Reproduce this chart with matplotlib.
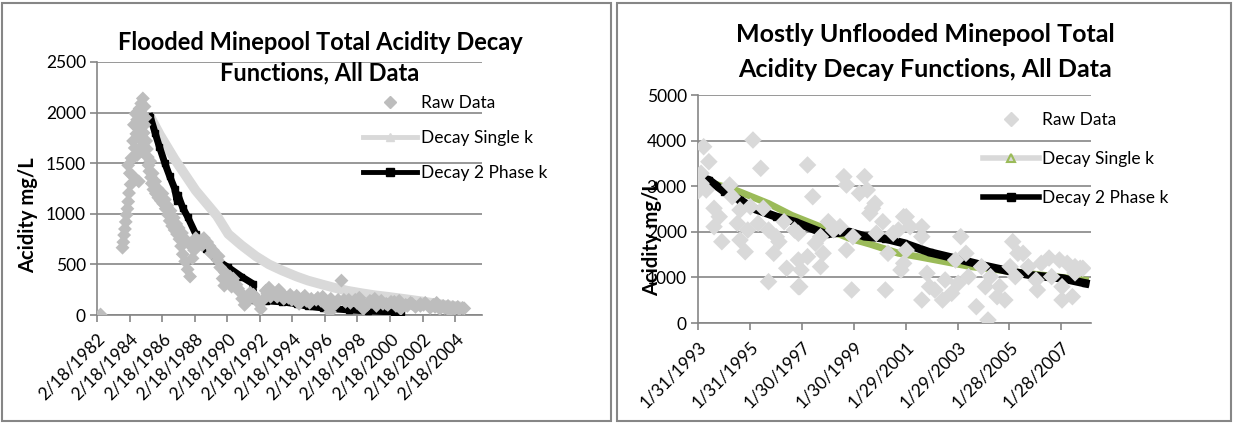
import matplotlib
matplotlib.use("Agg")
import matplotlib.pyplot as plt
from matplotlib.lines import Line2D
from matplotlib.patches import Rectangle
import pandas as pd

plt.rcParams['font.family'] = ['Lato', 'DejaVu Sans']

# ---- flooded minepool (left) ----
flood_t = [1982.35, 1983.70, 1983.75, 1983.80, 1983.85, 1983.90, 1983.95, 1984.00, 1984.05, 1984.10,
           1984.20, 1984.30, 1984.05, 1984.25, 1984.60, 1984.70, 1984.45, 1984.35, 1984.55, 1984.40,
           1984.60, 1984.50, 1984.75, 1984.65, 1984.85, 1984.95, 1985.05, 1984.90, 1985.10, 1984.80,
           1985.00, 1985.15, 1984.95, 1985.20, 1985.25, 1985.30, 1985.35, 1985.45, 1985.50, 1985.60,
           1985.75, 1985.90, 1986.05, 1986.20, 1986.35, 1986.50, 1986.60, 1986.75, 1986.90, 1987.05,
           1987.20, 1987.30, 1987.40, 1987.55, 1987.70, 1987.85, 1988.00, 1988.10, 1988.30, 1988.50,
           1988.70, 1988.90, 1989.05, 1989.25, 1989.40, 1989.55, 1989.70, 1989.85, 1989.95, 1990.10,
           1990.30, 1990.50, 1990.70, 1990.90, 1991.05, 1991.20, 1991.35, 1991.55, 1991.75, 1991.90,
           1992.05, 1992.20, 1992.35, 1992.50, 1992.70, 1992.90, 1993.10, 1993.30, 1993.50, 1993.70,
           1993.90, 1994.10, 1994.30, 1994.55, 1994.80, 1995.00, 1995.30, 1995.60, 1995.90, 1996.20,
           1996.45, 1996.70, 1996.95, 1997.15, 1997.40, 1997.70, 1998.00, 1998.25, 1998.50, 1998.75,
           1999.00, 1999.30, 1999.60, 1999.90, 2000.20, 2000.50, 2000.80, 2001.10, 2001.40, 2001.70,
           2002.00, 2002.30, 2002.60, 2002.90, 2003.20, 2003.50, 2003.80, 2004.10, 2004.40, 2004.70,
           1992.80, 1993.60, 1994.40, 1995.20, 1996.00, 1996.80, 1997.60, 1998.40, 1999.20, 2000.00,
           2000.70, 2001.50, 2002.20, 2003.00, 2003.70, 2004.30,
           1984.15, 1984.40, 1984.70, 1984.85, 1985.05, 1985.40, 1985.55, 1985.70, 1985.85, 1986.00,
           1986.15, 1986.30, 1986.45, 1986.65, 1986.85, 1987.00, 1987.15, 1987.35, 1987.60, 1987.80,
           1988.20, 1988.60, 1989.15, 1989.60, 1990.00, 1990.40, 1990.80, 1991.45, 1992.60, 1993.20,
           1994.00, 1994.90, 1995.70, 1996.50, 1997.30, 1998.10, 1998.90, 1999.70, 2000.40, 2001.20,
           2002.00, 2002.80, 2003.40, 2004.00, 2004.60]
flood_acid = [5, 665, 720, 790, 850, 920, 990, 1050, 1120, 1205,
              1290, 1380, 1480, 1550, 1580, 1320, 1650, 1720, 1790, 1880,
              1930, 1990, 2040, 1850, 2090, 2140, 2060, 1990, 1950, 1900,
              1800, 1720, 1680, 1640, 1560, 1480, 1420, 1360, 1300, 1240,
              1200, 1160, 1130, 1100, 1050, 990, 930, 880, 840, 800,
              750, 680, 600, 530, 450, 380, 560, 640, 700, 740,
              760, 720, 680, 640, 600, 540, 470, 360, 290, 330,
              380, 360, 300, 230, 160, 100, 180, 220, 200, 170,
              120, 60, 150, 240, 270, 230, 200, 250, 210, 180,
              170, 150, 160, 110, 170, 140, 160, 150, 140, 100,
              30, 110, 150, 340, 130, 120, 150, 170, 60, 100,
              130, 90, 140, 110, 130, 90, 60, 100, 120, 80,
              90, 120, 70, 80, 60, 70, 40, 60, 55, 65,
              180, 160, 190, 120, 180, 110, 150, 120, 160, 100,
              140, 110, 100, 120, 90, 80,
              1400, 1560, 1760, 1620, 1880, 1520, 1400, 1320, 1250, 1180,
              1200, 1140, 1080, 1030, 960, 900, 860, 810, 740, 700,
              760, 690, 610, 580, 420, 280, 260, 150, 210, 180,
              200, 190, 170, 160, 150, 120, 140, 110, 130, 90,
              110, 100, 90, 80, 70]

flood_single_t = [1985.4, 1986.0, 1986.9, 1988.2, 1989.5, 1990.2, 1991.0, 1991.9, 1992.7, 1993.5,
                  1994.4, 1995.1, 1996.0, 1996.7, 1997.5, 1998.4, 1999.2, 2000.0, 2001.4, 2002.5,
                  2003.5, 2004.7]
flood_single = [1960, 1780, 1540, 1230, 980, 800, 690, 580, 500, 440,
                380, 340, 300, 270, 240, 215, 195, 180, 150, 125,
                100, 80]

flood_2ph_t = [1985.40, 1985.70, 1985.97, 1986.30, 1986.60, 1986.90, 1987.05, 1987.10, 1987.40, 1987.70,
               1988.20, 1988.80, 1989.50, 1990.20, 1991.00, 1991.70, 1991.80, 1992.50, 1993.50, 1994.40,
               1995.10, 1996.00, 1997.60, 1998.80, 2000.40, 2000.80]
flood_2ph = [1960, 1800, 1660, 1500, 1370, 1250, 1130, 1190, 1060, 970,
             800, 650, 540, 470, 380, 310, 150, 140, 130, 110,
             85, 70, 50, 40, 30, 25]

flood_ticks = ['2/18/1982', '2/18/1984', '2/18/1986', '2/18/1988', '2/18/1990', '2/18/1992',
               '2/18/1994', '2/18/1996', '2/18/1998', '2/18/2000', '2/18/2002', '2/18/2004']

# ---- mostly unflooded minepool (right) ----
unfl_t = [1993.3, 1993.5, 1993.2, 1993.2, 1993.4, 1995.2, 1995.5, 1994.3, 1993.7, 1993.9,
          1993.7, 1994.0, 1994.4, 1994.7, 1994.6, 1994.7, 1994.9, 1995.1, 1995.0, 1995.6,
          1995.4, 1995.8, 1996.0, 1996.2, 1996.1, 1996.5, 1995.8, 1996.4, 1996.8, 1996.95,
          1996.95, 1997.3, 1997.5, 1996.95, 1997.3, 1997.05, 1997.0, 1997.6, 1997.8, 1997.9,
          1997.8, 1998.1, 1998.3, 1998.55, 1998.8, 1998.7, 1998.8, 1999.0, 1999.05, 1999.3,
          1999.5, 1999.6, 1999.8, 1999.9, 1999.7, 2000.2, 1999.95, 2000.4, 2000.3, 2000.6,
          2000.8, 2001.0, 2000.9, 2001.1, 2001.1, 2001.25, 2001.7, 2001.7, 2001.0, 2001.9,
          2002.0, 2001.7, 2002.2, 2002.5, 2002.6, 2002.85, 2003.2, 2003.4, 2003.0, 2003.5,
          2003.1, 2003.8, 2004.0, 2004.15, 2004.25, 2004.35, 2004.6, 2004.7, 2004.9, 2005.1,
          2005.2, 2005.4, 2005.3, 2005.6, 2005.8, 2006.1, 2006.3, 2006.15, 2006.6, 2006.7,
          2007.0, 2007.3, 2007.1, 2007.1, 2007.5, 2007.6, 2007.8, 2007.9, 2007.6, 1993.1]
unfl_acid = [3866, 3537, 3283, 3063, 2917, 4013, 3392, 3026, 2515, 2331,
             2112, 1783, 2770, 2478, 2186, 1820, 1563, 2550, 2039, 2515,
             2186, 2039, 1528, 1783, 1890, 1200, 906, 2221, 2039, 796,
             1381, 3465, 2770, 1967, 1454, 1162, 796, 1748, 1893, 1528,
             1235, 2221, 2039, 2112, 1601, 3210, 3026, 724, 1893, 2844,
             3210, 2917, 2515, 2625, 2405, 2221, 1967, 1528, 724, 1967,
             2039, 2331, 1162, 1600, 2331, 2112, 2112, 1893, 1309, 1090,
             796, 504, 724, 504, 943, 651, 1893, 1528, 1380, 1017,
             870, 358, 1235, 796, 66, 1017, 577, 800, 504, 1235,
             1783, 1528, 1017, 1528, 1235, 943, 1309, 724, 1425, 1017,
             1382, 1309, 796, 504, 577, 1235, 1200, 1200, 1100, 2900]

unfl_single_t = [1993.1, 1994.5, 1995.8, 1996.7, 1997.8, 1998.9, 1999.7, 2000.8, 2001.6, 2003.6,
                 2005.2, 2006.5, 2008.0]
unfl_single = [3150, 2920, 2620, 2360, 2110, 1860, 1730, 1530, 1450, 1235,
               1125, 1040, 940]

unfl_2ph_t = [1993.0, 1993.5, 1994.1, 1994.7, 1995.2, 1996.1, 1996.8, 1998.0, 1998.9, 1999.5,
              2000.3, 2001.0, 2002.0, 2003.1, 2004.15, 2005.2, 2006.0, 2007.1, 2008.0]
unfl_2ph = [3210, 3136, 2880, 2700, 2515, 2330, 2220, 1950, 2000, 1900,
            1850, 1750, 1550, 1400, 1250, 1120, 1040, 980, 870]

unfl_ticks = ['1/31/1993', '1/31/1995', '1/30/1997', '1/30/1999', '1/29/2001',
              '1/29/2003', '1/28/2005', '1/28/2007']


def to_dates(years):
    out = []
    for y in years:
        yr = int(y)
        out.append(pd.Timestamp(year=yr, month=1, day=1) + pd.Timedelta(days=(y - yr) * 365.25))
    return out


GRID = '#868686'
W, H = 1234, 424

fig = plt.figure(figsize=(W / 100, H / 100), dpi=100)

# chart frames
for x0, x1 in [(2, 611), (617, 1231)]:
    fig.add_artist(Rectangle((x0 / W, 1 - 421 / H), (x1 - x0) / W, 418 / H,
                             transform=fig.transFigure, fill=False, edgecolor=GRID, lw=1.5))


def style_axes(ax, ticks, ymax, ystep):
    ax.set_ylim(0, ymax)
    ax.set_yticks(range(0, ymax + 1, ystep))
    ax.yaxis.grid(True, color=GRID, lw=1.2)
    ax.set_axisbelow(True)
    for s in ['top', 'right']:
        ax.spines[s].set_visible(False)
    for s in ['left', 'bottom']:
        ax.spines[s].set_color(GRID)
        ax.spines[s].set_linewidth(1.2)
    tick_dates = pd.to_datetime(ticks, format='%m/%d/%Y')
    ax.set_xticks(tick_dates)
    ax.set_xticklabels(ticks, rotation=45, ha='right', va='top', rotation_mode='anchor')
    ax.tick_params(axis='both', direction='out', color=GRID, length=5, width=1.2,
                   labelsize=12.5, pad=3)
    ax.tick_params(axis='x', pad=6)


# left chart
ax1 = fig.add_axes([97 / W, 1 - 315 / H, 385 / W, 253 / H])
ax1.plot(to_dates(flood_single_t), flood_single, color='#D9D9D9', lw=7, solid_capstyle='butt', zorder=2)
ax1.plot(to_dates(flood_2ph_t), flood_2ph, color='black', lw=5, marker='s', ms=4, zorder=3)
ax1.scatter(to_dates(flood_t), flood_acid, marker='D', s=50, color='#BDBDBD', edgecolors='none', zorder=4)
ax1.set_xlim(pd.Timestamp('1982-02-18'), pd.Timestamp('2005-10-15'))
style_axes(ax1, flood_ticks, 2500, 500)

h1 = [Line2D([], [], ls='none', marker='D', ms=6, color='#BDBDBD'),
      Line2D([], [], color='#D9D9D9', lw=3.5, marker='^', ms=6),
      Line2D([], [], color='black', lw=3.5, marker='s', ms=6)]
fig.legend(h1, ['Raw Data', 'Decay Single k', 'Decay 2 Phase k'], loc='upper left',
           bbox_to_anchor=(363 / W, 1 - 95 / H), frameon=False, fontsize=12.5,
           borderpad=0, borderaxespad=0, handlelength=3.1, handletextpad=0.25, labelspacing=1.1)

fig.text(320 / W, 1 - 58 / H, 'Flooded Minepool Total Acidity Decay\nFunctions, All Data',
         ha='center', va='center', fontsize=17, fontweight='bold', linespacing=1.38)
fig.text(28 / W, 1 - 215 / H, 'Acidity mg/L', rotation=90, ha='center', va='center',
         fontsize=14.5, fontweight='bold')

# right chart
ax2 = fig.add_axes([698 / W, 1 - 323 / H, 393 / W, 228 / H])
ax2.plot(to_dates(unfl_single_t), unfl_single, color='#9BBB59', lw=5, zorder=2)
ax2.plot(to_dates(unfl_2ph_t), unfl_2ph, color='black', lw=6, marker='s', ms=5, zorder=3)
ax2.scatter(to_dates(unfl_t), unfl_acid, marker='D', s=80, color='#D9D9D9', edgecolors='none', zorder=4)
ax2.set_xlim(pd.Timestamp('1993-01-31'), pd.Timestamp('2008-03-20'))
style_axes(ax2, unfl_ticks, 5000, 1000)

h2 = [Line2D([], [], ls='none', marker='D', ms=7, color='#D9D9D9'),
      Line2D([], [], color='#D9D9D9', lw=4, marker='^', ms=6, mfc='#D9D9D9', mec='#9BBB59', mew=1.5),
      Line2D([], [], color='black', lw=4, marker='s', ms=6)]
fig.legend(h2, ['Raw Data', 'Decay Single k', 'Decay 2 Phase k'], loc='upper left',
           bbox_to_anchor=(983 / W, 1 - 112 / H), frameon=False, fontsize=12.5,
           borderpad=0, borderaxespad=0, handlelength=3.2, handletextpad=0.2, labelspacing=1.33)

fig.text(925 / W, 1 - 52 / H, 'Mostly Unflooded Minepool Total\nAcidity Decay Functions, All Data',
         ha='center', va='center', fontsize=18, fontweight='bold', linespacing=1.6)
fig.text(652 / W, 1 - 238 / H, 'Acidity mg/L', rotation=90, ha='center', va='center',
         fontsize=14.5, fontweight='bold')

fig.savefig('out.png', dpi=100)
